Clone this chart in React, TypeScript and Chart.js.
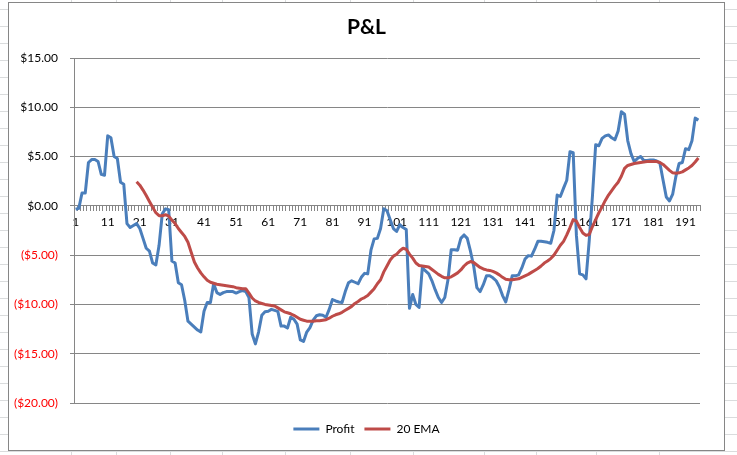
import React, { useEffect, useRef } from 'react';
import { Chart, registerables } from 'chart.js';

Chart.register(...registerables);

// Profit por dia (1..195)
const profit: number[] = [
  -0.35, -0.25, 1.3, 1.3, 4.4, 4.7, 4.7, 4.5, 3.2, 3.1,
  7.1, 6.9, 5.0, 4.8, 2.4, 2.2, -1.8, -2.2, -2.0, -1.8,
  -2.3, -3.3, -4.3, -4.6, -5.8, -6.0, -4.0, -0.8, -0.3, -0.4,
  -5.6, -5.8, -7.8, -8.0, -9.6, -11.7, -12.0, -12.3, -12.6, -12.8,
  -10.7, -9.8, -9.8, -7.9, -8.8, -9.0, -8.8, -8.7, -8.7, -8.7,
  -8.85, -8.7, -8.6, -8.7, -9.3, -13.0, -14.0, -12.8, -11.1, -10.75,
  -10.7, -10.5, -10.6, -10.7, -12.2, -12.2, -12.4, -11.3, -11.5, -12.0,
  -13.6, -13.75, -12.8, -12.35, -11.6, -11.15, -11.05, -11.1, -11.3, -10.5,
  -9.5, -9.65, -9.75, -9.8, -8.7, -7.8, -7.6, -7.75, -7.9, -7.25,
  -6.85, -6.9, -4.5, -3.35, -3.3, -2.3, -0.3, -0.5, -1.4, -2.3,
  -2.6, -1.9, -2.2, -2.4, -10.4, -9.0, -10.0, -10.3, -6.3, -6.6,
  -6.9, -7.6, -8.5, -9.3, -9.8, -9.3, -7.5, -4.45, -4.45, -4.5,
  -3.3, -2.95, -3.3, -4.6, -6.1, -8.3, -8.7, -8.0, -7.1, -7.1,
  -7.3, -7.6, -8.2, -9.1, -9.75, -8.5, -7.1, -7.1, -7.0, -6.3,
  -5.4, -5.05, -5.1, -4.4, -3.6, -3.6, -3.65, -3.7, -3.8, -2.5,
  1.1, 0.95, 1.8, 2.6, 5.5, 5.4, -3.0, -6.9, -7.0, -7.4,
  -3.5, 1.0, 6.2, 6.1, 6.85, 7.1, 7.2, 6.9, 6.7, 7.6,
  9.55, 9.3, 6.6, 5.3, 4.5, 4.8, 5.0, 4.6, 4.6, 4.65,
  4.65, 4.55, 4.35, 2.6, 0.9, 0.5, 1.2, 3.0, 4.3, 4.4,
  5.8, 5.7, 6.6, 8.9, 8.7,
];

// 20 EMA (começa no dia 20)
const ema20: (number | null)[] = [
  null, null, null, null, null, null, null, null, null, null,
  null, null, null, null, null, null, null, null, null, 2.45,
  2.1, 1.6, 1.05, 0.45, -0.15, -0.7, -1.0, -1.0, -0.9, -1.05,
  -1.45, -1.8, -2.3, -2.7, -3.1, -3.7, -4.7, -5.7, -6.3, -6.8,
  -7.2, -7.55, -7.75, -7.85, -7.95, -8.0, -8.05, -8.1, -8.15, -8.2,
  -8.3, -8.35, -8.4, -8.4, -8.85, -9.35, -9.65, -9.8, -9.9, -10.0,
  -10.05, -10.1, -10.15, -10.35, -10.55, -10.75, -10.85, -10.95, -11.1, -11.3,
  -11.5, -11.6, -11.7, -11.7, -11.7, -11.65, -11.65, -11.6, -11.55, -11.4,
  -11.2, -11.05, -10.95, -10.8, -10.6, -10.4, -10.2, -9.9, -9.7, -9.45,
  -9.3, -9.1, -8.75, -8.4, -7.9, -7.5, -6.7, -6.1, -5.5, -5.1,
  -4.9, -4.55, -4.3, -4.4, -4.9, -5.3, -5.8, -6.05, -6.1, -6.15,
  -6.2, -6.45, -6.7, -6.95, -7.15, -7.3, -7.3, -7.2, -7.0, -6.8,
  -6.5, -6.1, -5.8, -5.65, -5.75, -6.0, -6.25, -6.4, -6.5, -6.55,
  -6.65, -6.8, -7.0, -7.25, -7.45, -7.5, -7.5, -7.45, -7.4, -7.25,
  -7.1, -6.95, -6.75, -6.55, -6.35, -6.1, -5.8, -5.6, -5.35, -5.0,
  -4.5, -4.0, -3.6, -2.95, -2.2, -1.4, -1.55, -2.2, -2.75, -3.0,
  -2.9, -2.1, -1.4, -0.7, -0.1, 0.55, 1.1, 1.55, 2.0, 2.4,
  3.0, 3.8, 4.1, 4.2, 4.3, 4.35, 4.4, 4.45, 4.5, 4.5,
  4.5, 4.5, 4.4, 4.2, 3.9, 3.6, 3.35, 3.3, 3.35, 3.45,
  3.65, 3.85, 4.1, 4.45, 4.85,
];

const days: string[] = profit.map((_, i) => String(i + 1));

// linhas das colunas da planilha (fundo)
const sheetCols = [71, 116, 170, 222, 285, 350, 413, 484, 536, 596, 659];

const GRID = '#868686';

const money = (v: number) =>
  v < 0 ? `($${Math.abs(v).toFixed(2)})` : `$${v.toFixed(2)}`;

const PnlChart: React.FC = () => {
  const chartRef = useRef<HTMLCanvasElement | null>(null);
  const chartInstanceRef = useRef<Chart | null>(null);

  useEffect(() => {
    if (!chartRef.current) return;
    const ctx = chartRef.current.getContext('2d');
    if (!ctx) return;
    if (chartInstanceRef.current) chartInstanceRef.current.destroy();

    Chart.defaults.font.family = 'Lato';
    Chart.defaults.font.size = 12;
    Chart.defaults.color = '#000';

    chartInstanceRef.current = new Chart(ctx, {
      type: 'line',
      data: {
        labels: days,
        datasets: [
          {
            label: 'Profit',
            data: profit,
            borderColor: '#4A7EBB',
            backgroundColor: '#4A7EBB',
            borderWidth: 3,
            pointRadius: 0,
            tension: 0,
            borderJoinStyle: 'round',
            order: 1,
          },
          {
            label: '20 EMA',
            data: ema20,
            borderColor: '#BE4B48',
            backgroundColor: '#BE4B48',
            borderWidth: 3,
            pointRadius: 0,
            tension: 0,
            borderJoinStyle: 'round',
            spanGaps: false,
            order: 0,
          },
        ],
      },
      options: {
        responsive: false,
        animation: false,
        layout: { padding: { left: 0, right: 0, top: 0, bottom: 5 } },
        plugins: {
          title: {
            display: true,
            text: 'P&L',
            color: '#000',
            font: { size: 21, weight: 'bold', lineHeight: 1.2 },
            padding: { top: 12, bottom: 17.8 },
          },
          legend: {
            position: 'bottom',
            title: { display: true, text: '', padding: 0, font: { size: 10, lineHeight: 1 } },
            labels: {
              usePointStyle: true,
              pointStyle: 'line',
              pointStyleWidth: 26,
              padding: 10,
              color: '#000',
              font: { size: 12 },
              sort: (a, b) => (a.datasetIndex ?? 0) - (b.datasetIndex ?? 0),
            },
          },
          tooltip: { enabled: false },
        },
        scales: {
          x: {
            type: 'category',
            position: { y: 0 },
            offset: true,
            grid: {
              display: true,
              drawOnChartArea: false,
              drawTicks: true,
              tickLength: 5,
              color: GRID,
              offset: true,
            },
            border: { display: true, color: GRID, width: 1 },
            ticks: {
              autoSkip: false,
              maxRotation: 0,
              minRotation: 0,
              padding: 4,
              color: '#000',
              font: { size: 12 },
              callback: (_v, i) => (i % 10 === 0 ? days[i] : ''),
            },
          },
          y: {
            min: -20,
            max: 15,
            afterFit: (s) => {
              s.width = 65;
            },
            grid: { color: GRID, drawTicks: true, tickLength: 4 },
            border: { display: true, color: GRID, width: 1 },
            ticks: {
              stepSize: 5,
              padding: 12,
              font: { size: 12 },
              color: (c) => (c.tick && c.tick.value < 0 ? '#FF0000' : '#000000'),
              callback: (v) => money(Number(v)),
            },
          },
          // margem vazia à direita do gráfico
          yRight: {
            type: 'linear',
            position: 'right',
            grid: { display: false },
            border: { display: false },
            ticks: { display: false },
            afterFit: (s) => {
              s.width = 24;
            },
          },
        },
      },
    });

    return () => {
      if (chartInstanceRef.current) {
        chartInstanceRef.current.destroy();
        chartInstanceRef.current = null;
      }
    };
  }, []);

  return <canvas ref={chartRef} width={715} height={447} style={{ width: 715, height: 447, display: 'block' }} />;
};

export default function App() {
  return (
    <div
      style={{
        position: 'fixed',
        left: 0,
        top: 0,
        width: 737,
        height: 455,
        overflow: 'hidden',
        background: '#fff',
        backgroundImage: 'repeating-linear-gradient(to bottom, transparent 0px, transparent 9px, #dadcdd 9px, #dadcdd 10px, transparent 10px, transparent 17px)',
      }}
    >
      {sheetCols.map((x) => (
        <div key={x} style={{ position: 'absolute', left: x, top: 0, width: 1, height: 455, background: '#dadcdd' }} />
      ))}
      <div
        style={{
          position: 'absolute',
          left: 8,
          top: 2,
          width: 717,
          height: 449,
          boxSizing: 'border-box',
          border: '1px solid #868686',
          background: '#fff',
        }}
      >
        <PnlChart />
      </div>
    </div>
  );
}
